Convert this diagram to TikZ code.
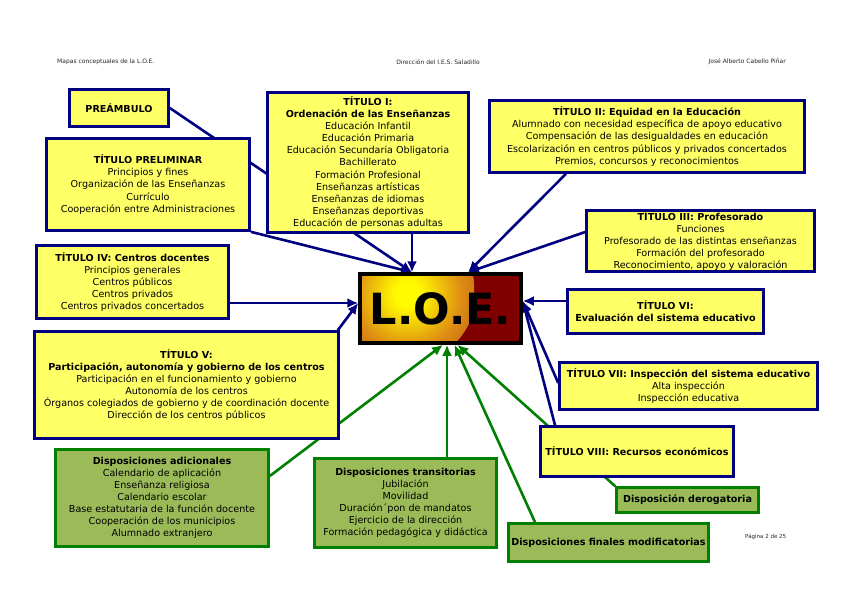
\documentclass[tikz,border=0pt]{standalone}
\usepackage{fontspec}
\setmainfont{DejaVu Sans}
\usetikzlibrary{arrows.meta}
\pgfdeclarelayer{paper}
\pgfdeclarelayer{lines}
\pgfsetlayers{paper,lines,main}
\definecolor{boxyellow}{RGB}{255,255,102}
\definecolor{navyblue}{RGB}{0,0,128}
\definecolor{dgreen}{RGB}{0,128,0}
\definecolor{olivebox}{RGB}{155,187,89}
\definecolor{loered}{RGB}{128,0,0}
\definecolor{loeorange}{RGB}{222,140,20}
\definecolor{loebrown}{RGB}{172,82,16}
\definecolor{loedark}{RGB}{115,35,10}
\pgfdeclareradialshading{loeglow}{\pgfpointorigin}{color(0bp)=(yellow); color(5bp)=(yellow!95!orange); color(20bp)=(loeorange); color(36bp)=(loebrown); color(50bp)=(loedark)}
\tikzset{
  ybox/.style={draw=navyblue, fill=boxyellow, line width=2.6pt, align=center, inner sep=0pt,
               font=\fontsize{9.6}{12.1}\selectfont},
  gbox/.style={draw=dgreen, fill=olivebox, line width=2.6pt, align=center, inner sep=0pt,
               font=\fontsize{9.6}{12.1}\selectfont},
  bline/.style={draw=navyblue, line width=2.6pt, -{Latex[length=11pt,width=10pt]}},
  gline/.style={draw=dgreen, line width=2.6pt, -{Latex[length=11pt,width=10pt]}},
  headtext/.style={font=\fontsize{6}{7}\selectfont, text=black!85, inner sep=0pt},
}
\begin{document}
\begin{tikzpicture}[x=1pt,y=-1pt]
\begin{pgfonlayer}{paper}
\fill[white] (0,0) rectangle (848,599);
\end{pgfonlayer}
\useasboundingbox (0,0) rectangle (848,599);

% header / footer
\node[headtext, anchor=west] (h1) at (57,62) {Mapas conceptuales de la L.O.E.};
\node[headtext] (h2) at (438,62) {Dirección del I.E.S. Saladillo};
\node[headtext, anchor=east] (h3) at (786,62) {José Alberto Cabello Piñar};
\node[headtext, anchor=west, font=\fontsize{5.5}{6}\selectfont] (pg) at (745,537) {Página 2 de 25};

% central node
\node[draw=black, line width=3.5pt, minimum width=161pt, minimum height=69pt, inner sep=0pt,
      font=\fontsize{43}{43}\selectfont\bfseries,
      path picture={
        \fill[loered] (path picture bounding box.south west) rectangle (path picture bounding box.north east);
        \begin{scope}
          \clip (path picture bounding box.south west) rectangle ([xshift=33.5pt]path picture bounding box.north);
          \shade[shading=loeglow] ([xshift=-33pt,yshift=14pt]path picture bounding box.center) circle (68);
        \end{scope}
      }] (loe) at (440.5,308.5) {L.O.E.};

% yellow boxes
\node[ybox, minimum width=99pt, minimum height=37pt] (pre) at (119,108) {\textbf{PREÁMBULO}};
\node[ybox, minimum width=203pt, minimum height=92pt] (prel) at (148,184.5)
  {\textbf{TÍTULO PRELIMINAR}\\Principios y fines\\Organización de las Enseñanzas\\Currículo\\Cooperación entre Administraciones};
\node[ybox, minimum width=201pt, minimum height=140pt] (tI) at (368,162.5)
  {\textbf{TÍTULO I:}\\\textbf{Ordenación de las Enseñanzas}\\Educación Infantil\\Educación Primaria\\Educación Secundaria Obligatoria\\Bachillerato\\Formación Profesional\\Enseñanzas artísticas\\Enseñanzas de idiomas\\Enseñanzas deportivas\\Educación de personas adultas};
\node[ybox, minimum width=315pt, minimum height=72pt] (tII) at (647,136.5)
  {\textbf{TÍTULO II: Equidad en la Educación}\\Alumnado con necesidad específica de apoyo educativo\\Compensación de las desigualdades en educación\\Escolarización en centros públicos y privados concertados\\Premios, concursos y reconocimientos};
\node[ybox, minimum width=228pt, minimum height=61pt] (tIII) at (700.5,241)
  {\textbf{TÍTULO III: Profesorado}\\Funciones\\Profesorado de las distintas enseñanzas\\Formación del profesorado\\Reconocimiento, apoyo y valoración};
\node[ybox, minimum width=192pt, minimum height=73pt] (tIV) at (132.5,282)
  {\textbf{TÍTULO IV: Centros docentes}\\Principios generales\\Centros públicos\\Centros privados\\Centros privados concertados};
\node[ybox, minimum width=196pt, minimum height=44pt] (tVI) at (665.5,311.5)
  {\textbf{TÍTULO VI:}\\\textbf{Evaluación del sistema educativo}};
\node[ybox, minimum width=304pt, minimum height=107pt] (tV) at (186.5,385)
  {\textbf{TÍTULO V:}\\\textbf{Participación, autonomía y gobierno de los centros}\\Participación en el funcionamiento y gobierno\\Autonomía de los centros\\Órganos colegiados de gobierno y de coordinación docente\\Dirección de los centros públicos};
\node[ybox, minimum width=258pt, minimum height=47pt] (tVII) at (688.5,386)
  {\textbf{TÍTULO VII: Inspección del sistema educativo}\\Alta inspección\\Inspección educativa};
\node[ybox, minimum width=193pt, minimum height=50pt] (tVIII) at (637,451.5)
  {\textbf{TÍTULO VIII: Recursos económicos}};

% green boxes
\node[gbox, minimum width=213pt, minimum height=97pt] (adic) at (162,498)
  {\textbf{Disposiciones adicionales}\\Calendario de aplicación\\Enseñanza religiosa\\Calendario escolar\\Base estatutaria de la función docente\\Cooperación de los municipios\\Alumnado extranjero};
\node[gbox, minimum width=182pt, minimum height=89pt] (trans) at (405.5,503)
  {\textbf{Disposiciones transitorias}\\Jubilación\\Movilidad\\Duración´pon de mandatos\\Ejercicio de la dirección\\Formación pedagógica y didáctica};
\node[gbox, minimum width=142pt, minimum height=25pt] (derog) at (687.5,500)
  {\textbf{Disposición derogatoria}};
\node[gbox, minimum width=200pt, minimum height=38pt] (fin) at (608.5,542.5)
  {\textbf{Disposiciones finales modificatorias}};

% connectors (behind the boxes)
\begin{pgfonlayer}{lines}
\draw[bline] (pre.east) -- ([xshift=-28.5pt]loe.north);
\draw[bline] (prel.south east) -- ([xshift=-28.5pt]loe.north);
\draw[bline] ([xshift=44pt]tI.south) -- ([xshift=-28.5pt]loe.north);
\draw[bline] ([xshift=-81pt]tII.south) -- ([xshift=27.5pt]loe.north);
\draw[bline] ([yshift=9pt]tIII.west) -- ([xshift=27.5pt]loe.north);
\draw[bline] ([yshift=-21pt]tIV.east) -- ([yshift=5.5pt]loe.west);
\draw[bline] ([xshift=-2pt]tV.north east) -- ([yshift=5.5pt]loe.west);
\draw[bline] ([yshift=10.5pt]tVI.west) -- ([yshift=7.5pt]loe.east);
\draw[bline] ([yshift=3pt]tVII.west) -- ([yshift=7.5pt]loe.east);
\draw[bline] ([xshift=-82pt]tVIII.north) -- ([yshift=7.5pt]loe.east);
\draw[gline] ([yshift=22pt]adic.east) -- ([xshift=2.5pt]loe.south);
\draw[gline] ([xshift=41.5pt]trans.north) -- ([xshift=6.5pt]loe.south);
\draw[gline] ([xshift=-73.5pt]fin.north) -- ([xshift=14pt]loe.south);
\draw[gline] (derog.north west) -- ([xshift=17pt]loe.south);
\end{pgfonlayer}
\end{tikzpicture}
\end{document}
